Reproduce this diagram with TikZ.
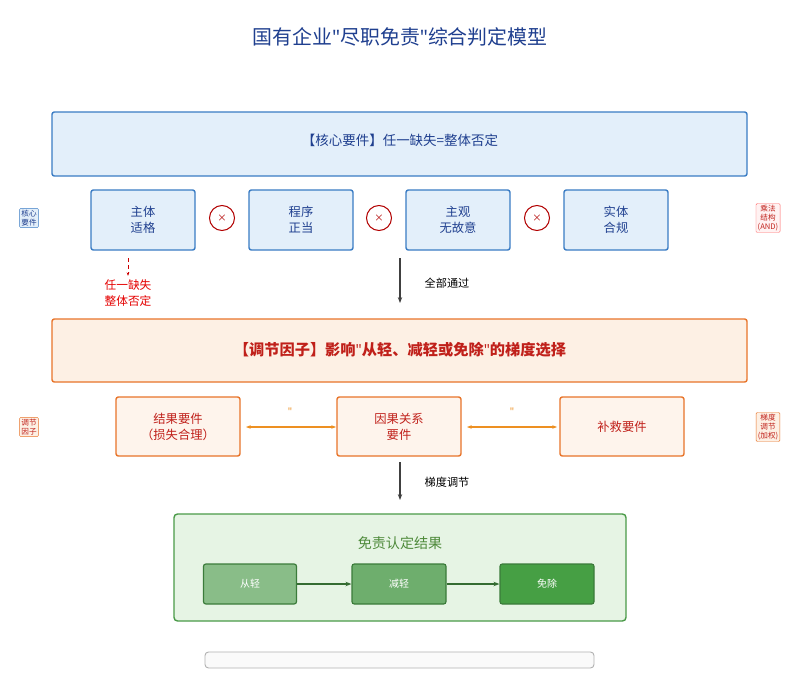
\documentclass[tikz,border=0pt]{standalone}
\usepackage{fontspec}
\setmainfont{Noto Sans CJK SC}
\newfontfamily\lat{Noto Sans}
\newcommand{\qq}{{\lat\char"22}}
\usetikzlibrary{arrows.meta}
\definecolor{tblue}{HTML}{1F3F8F}
\definecolor{bbord}{HTML}{3A7CC4}
\definecolor{bfill}{HTML}{E3EFFA}
\definecolor{obord}{HTML}{E8742A}
\definecolor{ofill}{HTML}{FDF0E4}
\definecolor{otext}{HTML}{C0201A}
\definecolor{gbord}{HTML}{4A9A48}
\definecolor{gfill}{HTML}{E6F4E4}
\definecolor{gtext}{HTML}{4E8A3A}
\begin{document}
\begin{tikzpicture}[x=0.03cm,y=-0.03cm,
 bbox/.style={draw=bbord,fill=bfill,line width=1.2pt,rounded corners=2pt},
 obox/.style={draw=obord,fill=ofill,line width=1.2pt,rounded corners=2pt},
 btxt/.style={text=tblue,font=\fontsize{10.5}{14}\selectfont,align=center},
 otxt/.style={text=otext,font=\fontsize{10.5}{14}\selectfont,align=center},
 tag/.style={draw,rounded corners=1pt,font=\fontsize{6.5}{7.5}\selectfont,align=center,inner sep=1.5pt},
 gb/.style={draw=gbord!80!black,line width=1pt,rounded corners=2pt,text=white,font=\fontsize{8.5}{10}\selectfont},
 arr/.style={-{Stealth[length=5pt]},line width=0.9pt,draw=black!75}]
\fill[white] (0,0) rectangle (800,693);
\node[text=tblue,font=\fontsize{17}{20}\selectfont] (title) at (400,37) {国有企业\qq 尽职免责\qq 综合判定模型};
\draw[bbox] (52,112) rectangle (747,176);
\node[btxt,font=\fontsize{11.5}{14}\selectfont] (core) at (400,140) {【核心要件】任一缺失=整体否定};
\foreach \n/\x/\t in {a/91/主体\\适格,b/249/程序\\正当,c/406/主观\\无故意,d/564/实体\\合规}{
 \draw[bbox] (\x,190) rectangle ++(104,60);
 \node[btxt] (\n) at (\x+52,220) {\t};}
\foreach \n/\x in {m1/222,m2/379,m3/537}{
 \node[circle,draw=red!70!black,line width=0.9pt,minimum size=25*0.03cm,inner sep=0pt,text=red!70!black,font=\fontsize{8}{9}\selectfont] (\n) at (\x,218) {×};}
\node[tag,draw=bbord,fill=bfill,text=tblue] (t1) at (29,218) {核心\\要件};
\node[tag,draw=red!60,fill=red!5,text=otext] (t2) at (768,218) {乘法\\结构\\(AND)};
\coordinate (r0) at (128,258);
\node[text=red!90!black,font=\fontsize{10}{13}\selectfont,align=center] (miss) at (128,293) {任一缺失\\整体否定};
\draw[red!80!black,dashed,line width=0.6pt,-{Stealth[length=3pt]}] (r0) -- (miss.north);
\coordinate (p0) at (400,258);
\draw[obox] (52,319) rectangle (747,382);
\node[text=otext,font=\bfseries\fontsize{13}{15}\selectfont] (adj) at (400,350) {【调节因子】影响\qq 从轻、减轻或免除\qq 的梯度选择};
\coordinate (p1) at (400,303);
\draw[arr] (p0) -- (p1);
\node[font=\fontsize{9.5}{11}\selectfont] (lp) at (447,283) {全部通过};
\foreach \n/\x/\t in {e/116/结果要件\\（损失合理）,f/337/因果关系\\要件,g/560/补救要件}{
 \draw[obox,fill=ofill!70] (\x,397) rectangle ++(124,59);
 \node[otxt] (\n) at (\x+62,427) {\t};}
\draw[obord!80!yellow,line width=1pt,{Stealth[length=4pt]}-{Stealth[length=4pt]}] (246,427) -- (336,427);
\draw[obord!80!yellow,line width=1pt,{Stealth[length=4pt]}-{Stealth[length=4pt]}] (467,427) -- (557,427);
\node[text=obord!80!yellow,font=\fontsize{9}{9}\selectfont] (s1) at (290,412) {{\lat\char"22}};
\node[text=obord!80!yellow,font=\fontsize{9}{9}\selectfont] (s2) at (512,412) {{\lat\char"22}};
\node[tag,draw=obord,fill=ofill,text=otext] (t3) at (29,427) {调节\\因子};
\node[tag,draw=obord,fill=ofill,text=otext] (t4) at (768,427) {梯度\\调节\\(加权)};
\coordinate (q0) at (400,462);
\coordinate (q1) at (400,500);
\draw[arr] (q0) -- (q1);
\node[font=\fontsize{9.5}{11}\selectfont] (lq) at (447,482) {梯度调节};
\draw[draw=gbord,fill=gfill,line width=1.2pt,rounded corners=3pt] (174,514) rectangle (626,621);
\node[text=gtext,font=\fontsize{12}{14}\selectfont] (res) at (400,543) {免责认定结果};
\node[gb,fill=gbord!65,minimum width=93*0.03cm,minimum height=40*0.03cm] (x1) at (250,584) {从轻};
\node[gb,fill=gbord!80,minimum width=94*0.03cm,minimum height=40*0.03cm] (x2) at (399,584) {减轻};
\node[gb,fill=gbord!95!green,minimum width=94*0.03cm,minimum height=40*0.03cm] (x3) at (547,584) {免除};
\draw[gbord!70!black,line width=0.9pt,-{Stealth[length=5pt]}] (x1) -- (x2);
\draw[gbord!70!black,line width=0.9pt,-{Stealth[length=5pt]}] (x2) -- (x3);
\draw[black!30,fill=black!2,line width=0.8pt,rounded corners=3pt] (205,652) rectangle (594,668);
\end{tikzpicture}
\end{document}
